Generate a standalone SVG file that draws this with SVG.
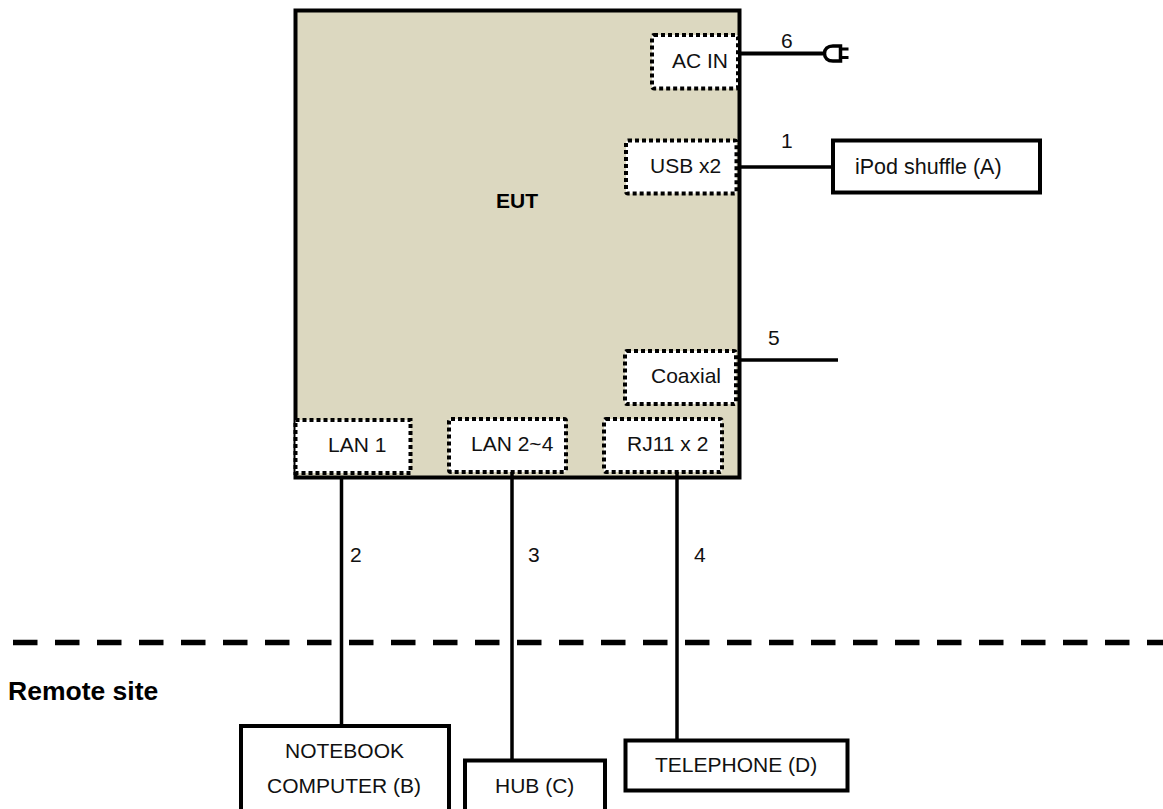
<svg xmlns="http://www.w3.org/2000/svg" width="1163" height="809" viewBox="0 0 1163 809">
<style>
text{font-family:"Liberation Sans",Arial,sans-serif;font-size:21px;fill:#111}
.b{font-weight:bold;fill:#000}
.box{fill:#fff;stroke:#000;stroke-width:4}
.port{fill:#fff;stroke:#000;stroke-width:4;stroke-dasharray:4 3}
.c{fill:none;stroke:#000;stroke-width:3.500}
</style>
<rect width="1163" height="809" fill="#fff"/>
<g id="eut">
<rect x="295.500" y="10.500" width="444" height="467" fill="#dcd8c0" stroke="#000" stroke-width="4"/>
<text class="b" x="496" y="208">EUT</text>
</g>
<g id="connectors">
<path class="c" d="M739 53.500H823" style="stroke-width:4"/>
<path class="c" d="M739 167H833"/>
<path class="c" d="M739 360H838"/>
<path class="c" d="M341.500 477V726"/>
<path class="c" d="M512 472V760"/>
<path class="c" d="M677 472V740"/>
<path d="M13 642.500H1163" fill="none" stroke="#000" stroke-width="5.500" stroke-dasharray="24.500 17.500"/>
<path d="M840.500 46H833C827.500 46 824.500 49 824.500 53.500C824.500 58 827.500 61 833 61H840.500Z" fill="#fff" stroke="#000" stroke-width="3.500"/>
<path d="M840 49H848.500M840 57.500H848.500" fill="none" stroke="#000" stroke-width="3.200"/>
</g>
<text x="781" y="48">6</text>
<text x="781" y="148">1</text>
<text x="768" y="345">5</text>
<text x="350" y="562">2</text>
<text x="528" y="562">3</text>
<text x="694" y="562">4</text>
<text class="b" x="8" y="700" style="font-size:26.500px">Remote site</text>
<g id="ac-in"><rect class="port" x="652" y="35" width="86" height="53.500" rx="2"/><text x="672" y="68">AC IN</text></g>
<g id="usb"><rect class="port" x="626" y="140.500" width="110.500" height="53" rx="2"/><text x="650" y="173">USB x2</text></g>
<g id="coaxial"><rect class="port" x="625" y="351" width="111" height="53" rx="2"/><text x="651" y="383">Coaxial</text></g>
<g id="lan1"><rect class="port" x="295.500" y="420" width="115" height="53"/><text x="328" y="452">LAN 1</text></g>
<g id="lan24"><rect class="port" x="449" y="419" width="117" height="53" rx="2"/><text x="471" y="451">LAN 2~4</text></g>
<g id="rj11"><rect class="port" x="604" y="419" width="118" height="53" rx="2"/><text x="627" y="451">RJ11 x 2</text></g>
<g id="ipod"><rect class="box" x="833" y="140.500" width="207" height="52"/><text x="855" y="174" style="font-size:21.500px">iPod shuffle (A)</text></g>
<g id="notebook"><rect class="box" x="241" y="726" width="208" height="100"/><text x="285" y="758">NOTEBOOK</text><text x="267" y="793">COMPUTER (B)</text></g>
<g id="hub"><rect class="box" x="465" y="760.500" width="140" height="70"/><text x="495" y="793">HUB (C)</text></g>
<g id="telephone"><rect class="box" x="625.500" y="740.500" width="222" height="50"/><text x="655" y="772">TELEPHONE (D)</text></g>
</svg>
